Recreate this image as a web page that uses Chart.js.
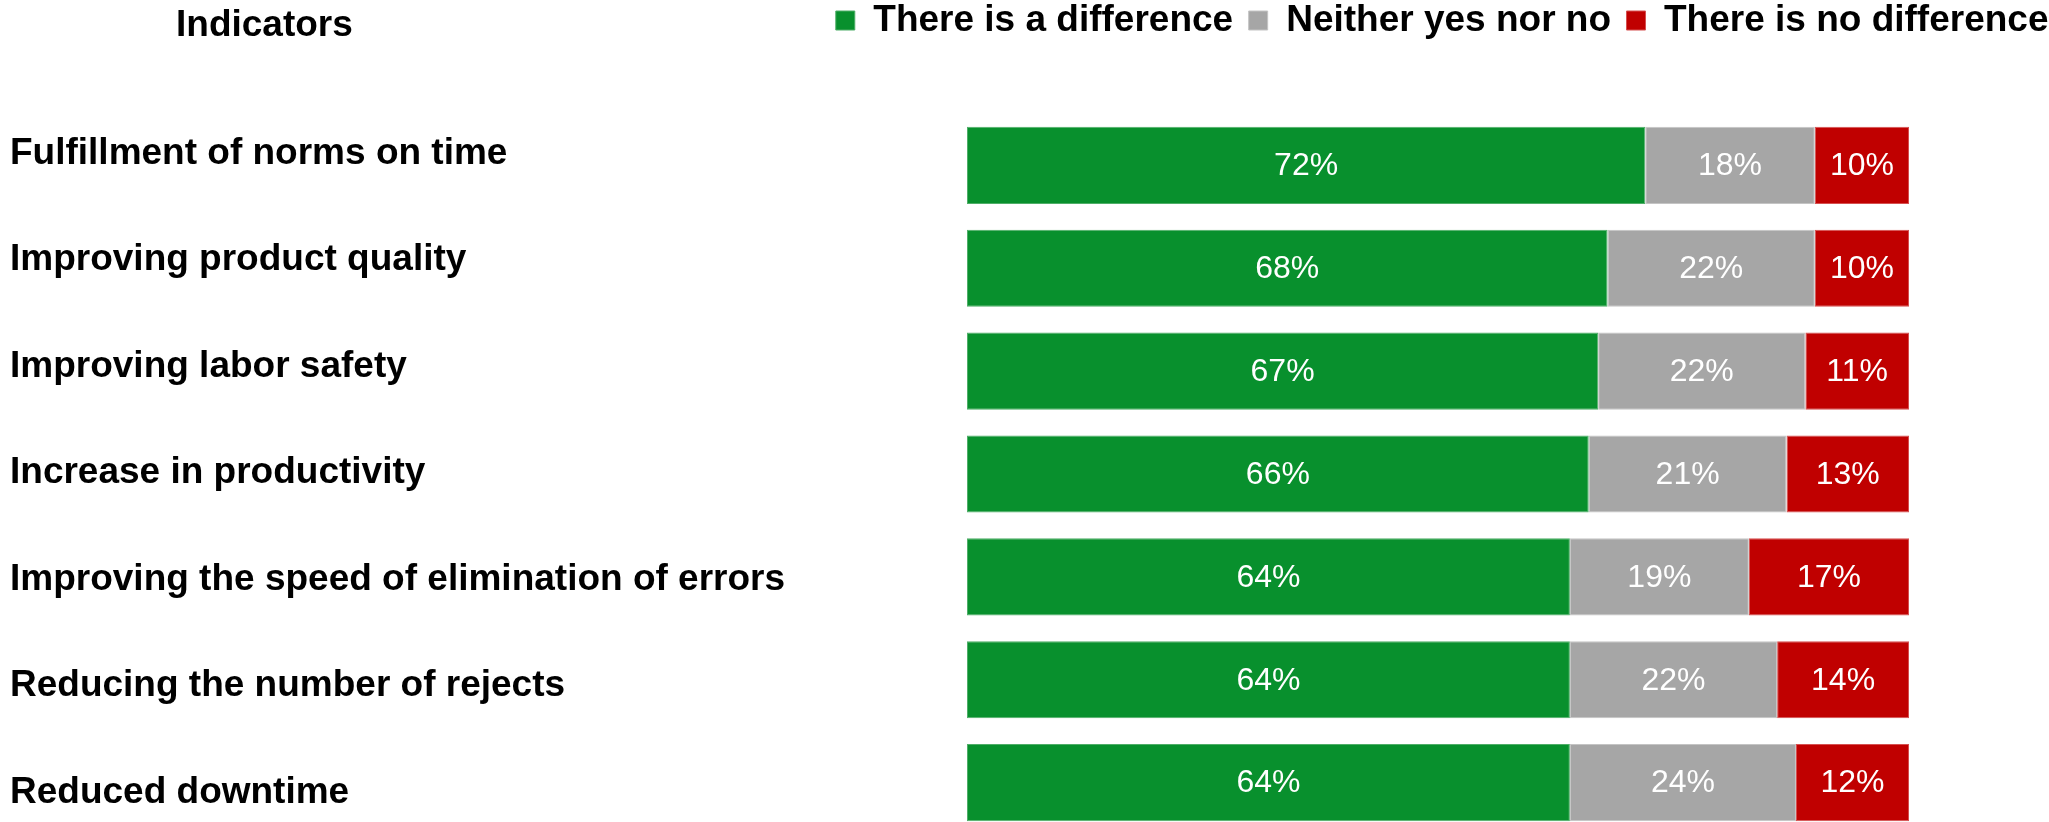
<!DOCTYPE html>
<html>
<head>
<meta charset="utf-8">
<script src="https://cdn.jsdelivr.net/npm/chart.js@4.4.1/dist/chart.umd.min.js"></script>
<style>
  html, body { margin: 0; padding: 0; background: #fff; }
  #wrap { width: 2049px; height: 822px; overflow: hidden; }
</style>
</head>
<body>
<div id="wrap">
  <canvas id="indicators_bar" width="2049" height="840"></canvas>
</div>
<script>
// 데이터
const indicators = [
  'Fulfillment of norms on time',
  'Improving product quality',
  'Improving labor safety',
  'Increase in productivity',
  'Improving the speed of elimination of errors',
  'Reducing the number of rejects',
  'Reduced downtime'
];
const differenceValues = [72, 68, 67, 66, 64, 64, 64];
const neitherValues = [18, 22, 22, 21, 19, 22, 24];
const noDifferenceValues = [10, 10, 11, 13, 17, 14, 12];

const FONT = '"Liberation Sans", Arial, sans-serif';

// 막대 안의 % 값
const valueLabels = {
  id: 'valueLabels',
  afterDatasetsDraw(chart) {
    const ctx = chart.ctx;
    ctx.save();
    ctx.font = '32px ' + FONT;
    ctx.fillStyle = '#fff';
    ctx.textAlign = 'center';
    ctx.textBaseline = 'middle';
    chart.data.datasets.forEach((ds, i) => {
      chart.getDatasetMeta(i).data.forEach((bar, j) => {
        const { x, y, base } = bar.getProps(['x', 'y', 'base'], true);
        ctx.fillText(ds.data[j] + '%', (x + base) / 2, y + 1);
      });
    });
    ctx.restore();
  }
};

// 왼쪽 위 "Indicators" 제목 (범례와 같은 줄)
const columnHeader = {
  id: 'columnHeader',
  afterDraw(chart) {
    const ctx = chart.ctx;
    ctx.save();
    ctx.font = 'bold 37px ' + FONT;
    ctx.fillStyle = '#000';
    ctx.textAlign = 'left';
    ctx.textBaseline = 'alphabetic';
    ctx.fillText('Indicators', 176, 36);
    ctx.restore();
  }
};

function makeDataset(label, data, color, edge) {
  return {
    label: label,
    data: data,
    backgroundColor: color,
    borderColor: edge,
    borderWidth: 1,
    borderSkipped: false
  };
}

const ctx = document.getElementById('indicators_bar').getContext('2d');
new Chart(ctx, {
  type: 'bar',
  data: {
    labels: indicators,
    datasets: [
      makeDataset('There is a difference', differenceValues, '#08902D', '#4fae68'),
      makeDataset('Neither yes nor no', neitherValues, '#A6A6A6', '#c4c4c4'),
      makeDataset('There is no difference', noDifferenceValues, '#C00000', '#d65050')
    ]
  },
  plugins: [valueLabels, columnHeader],
  options: {
    indexAxis: 'y',
    responsive: false,
    animation: false,
    layout: {
      // 오른쪽 음수 여백은 범례만 밀어냄 (차트 영역은 캔버스 안으로 잘림)
      padding: { left: 10, top: -13.5, right: -15, bottom: 6 }
    },
    datasets: {
      bar: { barPercentage: 0.75, categoryPercentage: 1 }
    },
    scales: {
      x: {
        stacked: true,
        position: 'top',
        min: 0,
        max: 114.86, // 100%가 1909px에서 끝나도록 오른쪽 여백
        grid: { display: false },
        border: { display: false },
        ticks: { display: false },
        afterFit: (scale) => { scale.height = 65; }
      },
      // 막대용 축 (숨김)
      y: {
        stacked: true,
        display: false
      },
      // 왼쪽 지표 이름: 원본처럼 막대 간격보다 약간 넓게 배치
      labelAxis: {
        type: 'linear',
        position: 'left',
        reverse: true,
        offset: false,
        min: -0.372,
        max: 6.389,
        grid: { display: false, offset: false },
        border: { display: false },
        afterBuildTicks: (scale) => {
          scale.ticks = indicators.map((_, i) => ({ value: i }));
        },
        ticks: {
          autoSkip: false,
          crossAlign: 'far',
          color: '#000',
          font: { family: FONT, size: 37, weight: 'bold', lineHeight: '2px' },
          callback: (value) => indicators[value]
        },
        afterFit: (scale) => { scale.width = 957; }
      }
    },
    plugins: {
      legend: {
        position: 'top',
        align: 'end',
        labels: {
          boxWidth: 19,
          boxHeight: 19,
          padding: 15.5,
          color: '#000',
          font: { family: FONT, size: 37, weight: 'bold' }
        }
      },
      tooltip: { enabled: false }
    }
  }
});
</script>
</body>
</html>
